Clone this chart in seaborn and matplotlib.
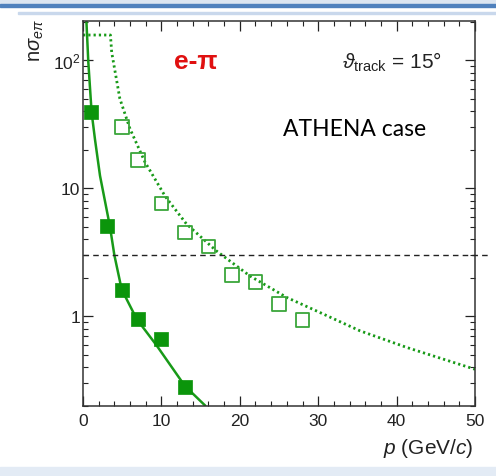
import numpy as np
import pandas as pd
import matplotlib
matplotlib.use("Agg")
import matplotlib.pyplot as plt
import matplotlib.ticker as mticker
from matplotlib.patches import Rectangle
import seaborn as sns

# measured points (n sigma e-pi separation vs momentum)
p_filled = [1, 3, 5, 7, 10, 13]
ns_filled = [39, 5.1, 1.6, 0.95, 0.66, 0.28]

p_open = [5, 7, 10, 13, 16, 19, 22, 25, 28]
ns_open = [30, 16.6, 7.6, 4.5, 3.5, 2.1, 1.85, 1.24, 0.93]

# solid curve
p_solid = [0.42, 0.68, 1.1, 1.53, 2.17, 3.44, 4.0, 4.93, 6.85, 9.4, 13.0, 15.6]
ns_solid = [210, 96, 39, 24, 12.5, 5.0, 3.0, 1.62, 0.95, 0.59, 0.285, 0.2]

# dotted curve
p_dot = [0, 3.5, 3.66, 4.7, 6.0, 7.9, 10.5, 13.2, 17.0, 21.3, 26.0, 30.2, 35.3, 41.3, 50.0]
ns_dot = [157, 157, 115, 50, 29, 16, 8.6, 5.25, 3.24, 2.06, 1.4, 1.07, 0.77, 0.57, 0.385]

threshold = 3.0
xticks = [0, 10, 20, 30, 40, 50]

sns.set_style("ticks")
plt.rcParams["font.family"] = ["Liberation Sans", "DejaVu Sans"]
plt.rcParams["mathtext.fontset"] = "custom"
plt.rcParams["mathtext.rm"] = "Liberation Sans"
plt.rcParams["mathtext.it"] = "Liberation Sans:italic"
plt.rcParams["mathtext.bf"] = "Liberation Sans:bold"

W, H = 496, 477
fig = plt.figure(figsize=(W / 100, H / 100), dpi=100)

# slide decorations
fig.patches.append(Rectangle((0, 1 - 5 / H), 1, 5 / H, transform=fig.transFigure,
                             color="#dbe5f1", zorder=0))
fig.patches.append(Rectangle((0, 1 - 8 / H), 1, 3 / H, transform=fig.transFigure,
                             color="#4f81bd", zorder=0))
fig.patches.append(Rectangle((18 / W, 1 - 15 / H), 1, 2 / H, transform=fig.transFigure,
                             color="#c9d8ec", zorder=0))
fig.patches.append(Rectangle((0, 0), 1, 9 / H, transform=fig.transFigure,
                             color="#e3ebf5", zorder=0))

ax = fig.add_axes([83 / W, 1 - 406.7 / H, 392 / W, 384.7 / H])

green_line = "#189a18"
green_fill = "#0b950b"
green_open = "#3aa63a"

sns.lineplot(x=p_solid, y=ns_solid, sort=False, estimator=None, ax=ax,
             color=green_line, linewidth=1.8)
sns.lineplot(x=p_dot, y=ns_dot, sort=False, estimator=None, ax=ax,
             color=green_line, linewidth=2.0, linestyle=(0, (0.8, 1.1)))
sns.scatterplot(x=p_filled, y=ns_filled, marker="s", s=95, color=green_fill,
                edgecolor=green_fill, linewidth=0.5, ax=ax, zorder=5)
sns.scatterplot(x=p_open, y=ns_open, marker="s", s=95, facecolors="none",
                edgecolor=green_open, linewidth=1.3, ax=ax, zorder=5)

ax.plot([0, 51.9], [threshold, threshold], color="#222222", linestyle=(0, (4, 3)),
        linewidth=1.0, clip_on=False, zorder=4)

ax.set_yscale("log")
ax.set_xlim(0, 50)
ax.set_ylim(0.2, 202)
ax.set_xticks(xticks)
ax.xaxis.set_minor_locator(mticker.MultipleLocator(2))
ax.yaxis.set_major_locator(mticker.FixedLocator([1, 10, 100]))
ax.yaxis.set_major_formatter(mticker.FixedFormatter(["1", "10", "$10^2$"]))
ax.yaxis.set_minor_locator(mticker.LogLocator(base=10, subs=np.arange(2, 10)))
ax.yaxis.set_minor_formatter(mticker.NullFormatter())

ax.tick_params(which="both", direction="in", top=True, right=True, color="#222222",
               labelsize=12.5, labelcolor="#222222")
ax.tick_params(which="major", length=7.5, width=0.9)
ax.tick_params(which="minor", length=3.8, width=0.8)
ax.tick_params(axis="x", pad=5)
ax.tick_params(axis="y", pad=2)
for s in ax.spines.values():
    s.set_linewidth(1.1)
    s.set_color("#333333")

ax.set_xlabel("")
ax.set_ylabel("")
ax.text(0.995, -0.108, "$p$ (GeV/$c$)", transform=ax.transAxes, ha="right",
        va="center", fontsize=15, color="#222222")
fig.text(37 / W, 1 - 19 / H, r"n$\sigma_{e\pi}$", rotation=90, ha="center", va="top",
         fontsize=14.5, color="#222222")

ax.text(196 / W, 1 - 62 / H, "e-π", transform=fig.transFigure, ha="center", va="center",
        fontsize=19, fontweight="bold", color="#e01010")
ax.text(442 / W, 1 - 62 / H, r"$\vartheta_{\rm track}$ = 15°", transform=fig.transFigure,
        ha="right", va="center", fontsize=15, color="#222222")
ax.text(355 / W, 1 - 130 / H, "ATHENA case", transform=fig.transFigure, ha="center",
        va="center", fontsize=16.5, family=["Lato", "DejaVu Sans"], color="black")

fig.savefig("out.png", dpi=100)
